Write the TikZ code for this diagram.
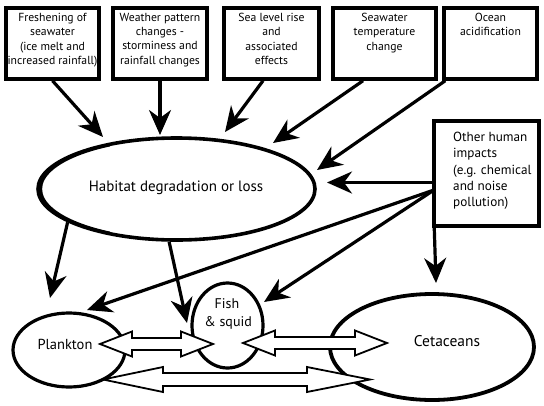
\documentclass[tikz,border=0pt]{standalone}
\usepackage{fontspec}
\setmainfont{PT Sans}
\usetikzlibrary{arrows.meta,shapes.geometric}
\begin{document}
\begin{tikzpicture}[x=1pt,y=-1pt,
  box/.style={draw,line width=3.5pt,inner sep=0pt},
  boxtext/.style={anchor=north,align=center,inner sep=0pt,font=\fontsize{11.7}{14.3}\selectfont},
  oval/.style={draw,ellipse,line width=3.2pt,inner sep=0pt},
  lab/.style={inner sep=0pt,font=\fontsize{14.5}{16}\selectfont},
  bigarr/.style={line width=3.2pt,-{Stealth[length=25pt,width=22pt,inset=8pt]}},
  blockarr/.style={draw,fill=white,line width=1.8pt,line join=miter}]
\useasboundingbox (0,0) rectangle (544,405);
% top boxes
\node[box,minimum width=93pt,minimum height=71pt] (b1) at (52.5,43.5) {};
\node[box,minimum width=94pt,minimum height=71pt] (b2) at (160,43.5) {};
\node[box,minimum width=95pt,minimum height=71pt] (b3) at (271.5,43.5) {};
\node[box,minimum width=103pt,minimum height=71pt] (b4) at (384.5,43.5) {};
\node[box,minimum width=93pt,minimum height=71pt] (b5) at (490.5,43.5) {};
\node[box,minimum width=105pt,minimum height=105pt] (b6) at (486.5,173.5) {};
\node[boxtext] (t1) at (52.5,13) {Freshening of\\seawater\\(ice melt and\\increased rainfall)};
\node[boxtext] (t2) at (160,13) {Weather pattern\\changes -\\storminess and\\rainfall changes};
\node[boxtext] (t3) at (271.5,13) {Sea level rise\\and\\associated\\effects};
\node[boxtext] (t4) at (384.5,13) {Seawater\\temperature\\change};
\node[boxtext] (t5) at (490.5,13) {Ocean\\acidification};
\node[anchor=north west,align=left,inner sep=0pt,font=\fontsize{13.2}{16.3}\selectfont] (t6) at (453,132)
  {Other human\\impacts\\(e.g. chemical\\and noise\\pollution)};
% ellipses
\node[oval,line width=3.6pt,minimum width=277pt,minimum height=102pt] (hab) at (176.5,189) {};
\begin{scope}
  \clip (20,120) rectangle (110,260);
  \draw[line width=3.2pt] (179,189) ellipse [x radius=138.5, y radius=51];
\end{scope}
\node[lab,font=\fontsize{15}{16}\selectfont] (habt) at (176,188) {Habitat degradation or loss};
\node[oval,minimum width=112pt,minimum height=74pt] (pla) at (69,350) {};
\node[lab] (plat) at (65,344) {Plankton};
\node[oval,minimum width=71pt,minimum height=85pt] (fish) at (227.5,325.5) {};
\node[lab,font=\fontsize{14}{18}\selectfont,align=center] (fisht) at (227,314) {Fish\\\,\& squid};
\node[oval,line width=3.8pt,minimum width=204pt,minimum height=106pt] (cet) at (432,347) {};
\node[lab,font=\fontsize{15.5}{16}\selectfont] (cett) at (447,341) {Cetaceans};
% tip coordinates
\coordinate (e1) at (103,137);
\coordinate (e2) at (160,135);
\coordinate (e3) at (225,132);
\coordinate (e4) at (273,143);
\coordinate (e5) at (317,170);
\coordinate (e6) at (327,182.5);
\coordinate (e7) at (87,310);
\coordinate (e8) at (264,302);
\coordinate (e9) at (436,283);
\coordinate (e10) at (50,298);
\coordinate (e11) at (187,323);
\coordinate (o6) at (434,190);
% arrows
\draw[bigarr] (b1.south) -- (e1);
\draw[bigarr] (b2.south) -- (e2);
\draw[bigarr] ([xshift=-8.5pt]b3.south) -- (e3);
\draw[bigarr] ([xshift=-21.5pt]b4.south) -- (e4);
\draw[bigarr] ([xshift=3pt]b5.south west) -- (e5);
\draw[bigarr] ([yshift=-9pt]b6.west) -- (e6);
\draw[bigarr] (o6) -- (e7);
\draw[bigarr] (o6) -- (e8);
\draw[bigarr] ([xshift=2pt]b6.south west) -- (e9);
\draw[bigarr] (hab.197) -- (e10);
\draw[bigarr] (hab.262) -- (e11);
% block double arrows
\draw[blockarr] (100,344) -- (132,331.5) -- (132,338) -- (181,338) -- (181,331.5) -- (213,344)
  -- (181,356.5) -- (181,350) -- (132,350) -- (132,356.5) -- cycle;
\draw[blockarr] (243,343) -- (275,330.5) -- (275,337) -- (355,337) -- (355,330.5) -- (387,343)
  -- (355,355.5) -- (355,349) -- (275,349) -- (275,355.5) -- cycle;
\draw[blockarr] (103,379.5) -- (163,367) -- (163,373) -- (307,373) -- (307,367) -- (370,379.5)
  -- (307,392) -- (307,386) -- (163,386) -- (163,392) -- cycle;
\end{tikzpicture}
\end{document}
